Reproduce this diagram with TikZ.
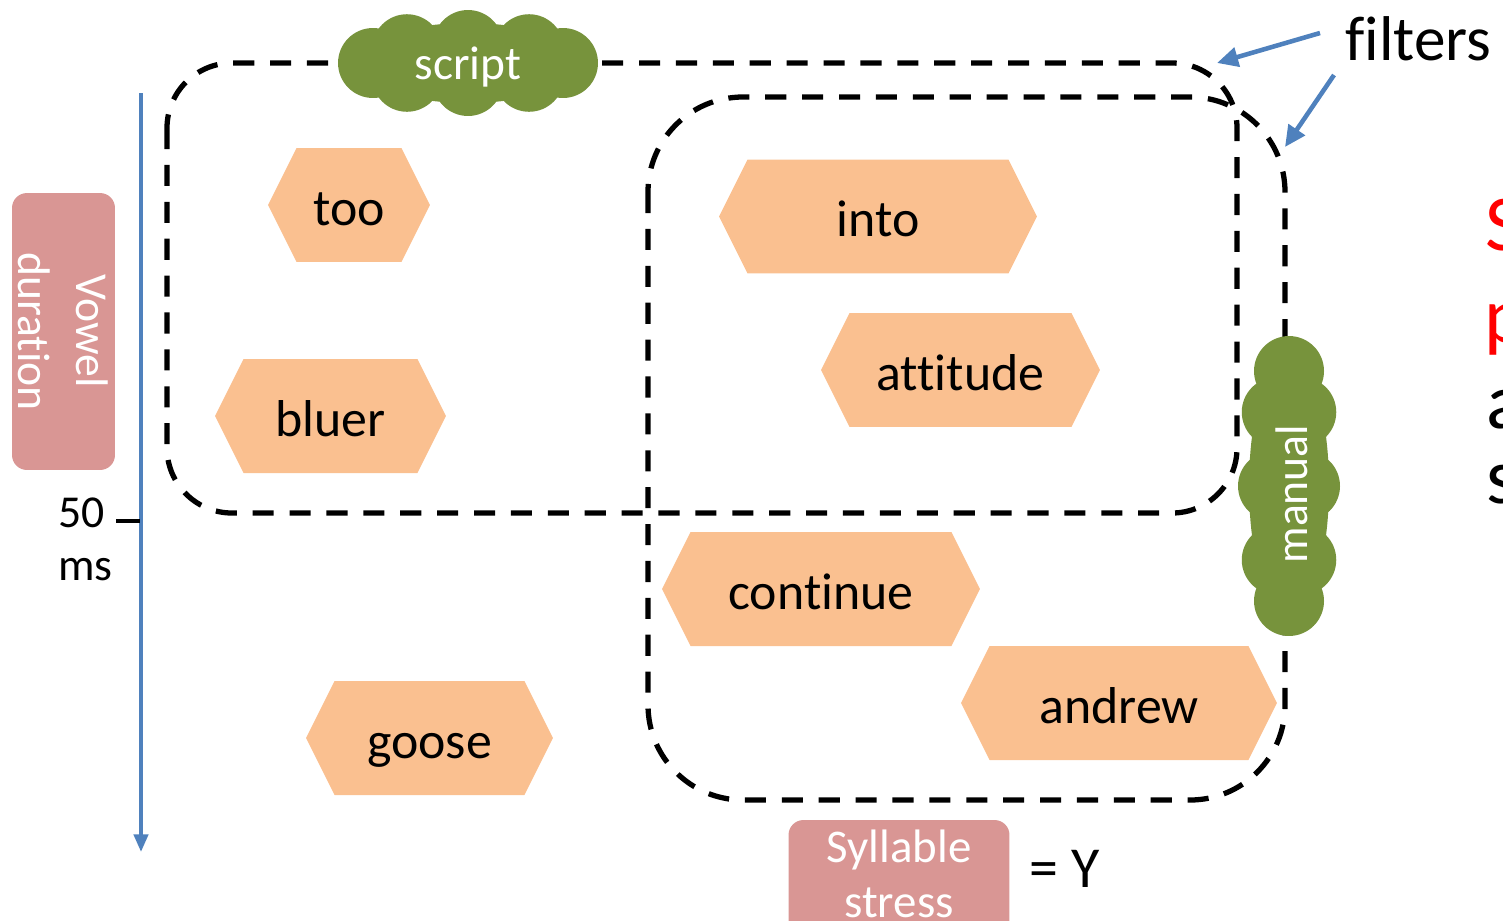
\documentclass[tikz,border=0pt]{standalone}
\usepackage{fontspec}
\setmainfont[Ligatures=NoCommon]{Carlito}
\usetikzlibrary{arrows.meta}
\definecolor{hexfill}{HTML}{FAC090}
\definecolor{cloudgreen}{HTML}{77933C}
\definecolor{tagpink}{HTML}{D99694}
\definecolor{axisblue}{HTML}{4F81BD}
\newcommand{\fsz}[2]{\fontsize{#1}{#2}\selectfont}
% a cloud: core ellipse with puffs placed round it
% #1 centre, #2/#3 semi-axes of the puff ring, #4 puff radius,
% #5 puff angles, #6/#7 semi-axes of the core
\newcommand{\cloudblob}[7]{%
  \fill[cloudgreen] (#1) ellipse [x radius=#6, y radius=#7];
  \foreach \ang in {#5}
    \fill[cloudgreen] (#1) ++(\ang:#2 and #3) circle [radius=#4];}
\begin{document}
\begin{tikzpicture}[x=0.02cm,y=-0.02cm,
  filterbox/.style={draw=black,line width=3pt,dash pattern=on 12pt off 9pt},
  hexa/.style={minimum width=#1,minimum height=2.28cm,inner sep=0pt,
    font=\fsz{29.5}{35},text height=30pt,text depth=7pt,
    path picture={\fill[hexfill]
      (path picture bounding box.west)
      -- ([xshift=0.57cm]path picture bounding box.north west)
      -- ([xshift=-0.57cm]path picture bounding box.north east)
      -- (path picture bounding box.east)
      -- ([xshift=-0.57cm]path picture bounding box.south east)
      -- ([xshift=0.57cm]path picture bounding box.south west) -- cycle;}},
  cloudtext/.style={text=white,inner sep=0pt},
  tagbox/.style={fill=tagpink,rounded corners=8.5pt,text=white,inner sep=0pt,align=center},
  blueaxis/.style={draw=axisblue,line width=2.2pt},
  bluearrow/.style={draw=axisblue,line width=2.6pt,-{Triangle[length=12pt,width=11pt]}},
  plain/.style={inner sep=0pt,anchor=base west},
  edgeletter/.style={inner sep=0pt,anchor=base west,font=\fsz{45}{54}}]

\useasboundingbox (0,0) rectangle (1503,920);
\clip (0,0) rectangle (1503,920);

% filter regions
\draw[filterbox,rounded corners=1.3cm] (167,63) rectangle (1237,513);
\draw[filterbox,rounded corners=1.9cm] (648,97) rectangle (1285,800);

% words
\node[hexa=3.24cm] (too) at (349,205) {too};
\node[hexa=6.36cm] (into) at (878,216.5) {into};
\node[hexa=5.58cm] (attitude) at (960.5,370) {attitude};
\node[hexa=4.62cm] (bluer) at (330.5,416) {bluer};
\node[hexa=6.36cm] (continue) at (821,589) {continue};
\node[hexa=6.32cm] (andrew) at (1119,703) {andrew};
\node[hexa=4.94cm] (goose) at (429.5,738) {goose};

% filter labels
\coordinate (scriptc) at (468,63);
\cloudblob{scriptc}{1.9cm}{0.36cm}{0.7cm}{0,50,90,130,180,230,270,310}{2.25cm}{0.8cm}
\node[cloudtext,font=\fsz{27}{32},text height=25pt,text depth=6pt] (script) at (scriptc) {script};
\coordinate (manualc) at (1289,486);
\cloudblob{manualc}{0.32cm}{2.3cm}{0.7cm}{0,40,90,140,180,220,270,320}{0.8cm}{2.6cm}
\node[cloudtext,rotate=90,font=\fsz{26}{31},text height=24pt,text depth=3pt] (manual) at (1289,494) {manual};

% vertical axis
\coordinate (axtop) at (141,93);
\coordinate (axbot) at (141,852);
\draw[blueaxis,-{Triangle[length=10pt,width=8pt]}] (axtop) -- (axbot);
\coordinate (tickin) at (116,521);
\coordinate (tickout) at (140,521);
\draw[line width=2.4pt] (tickin) -- (tickout);
\node[plain,font=\fsz{26}{31}] (fifty) at (58,527) {50};
\node[plain,font=\fsz{26}{31}] (ms) at (58,580) {ms};
\node[tagbox,rotate=-90,minimum width=5.54cm,minimum height=2.06cm,font=\fsz{26}{33}]
  (vowel) at (63.5,331.5) {Vowel\\duration};

% horizontal label
\node[tagbox,minimum width=4.42cm,minimum height=4cm] (stressbox) at (899,920) {};
\node[inner sep=0pt,align=center,text=white,font=\fsz{26.7}{31.5}] (stress) at (899,874) {Syllable\\stress};
\node[plain,font=\fsz{33}{40}] (eqy) at (1029,887) {= Y};

% filters callout
\node[plain,font=\fsz{36}{43}] (filters) at (1345,60) {filters};
\coordinate (fa1) at (1320,33);
\coordinate (fa1h) at (1217,63);
\coordinate (fa2) at (1334,75);
\coordinate (fa2h) at (1285,147);
\draw[bluearrow] (fa1) -- (fa1h);
\draw[bluearrow] (fa2) -- (fa2h);

% text running off the right edge
\node[edgeletter,text=red] (ltS) at (1485,250) {S};
\node[edgeletter,text=red] (ltp) at (1484,342) {p};
\node[edgeletter] (lta) at (1486,428) {a};
\node[edgeletter] (lts) at (1486,503) {s};
\end{tikzpicture}
\end{document}
